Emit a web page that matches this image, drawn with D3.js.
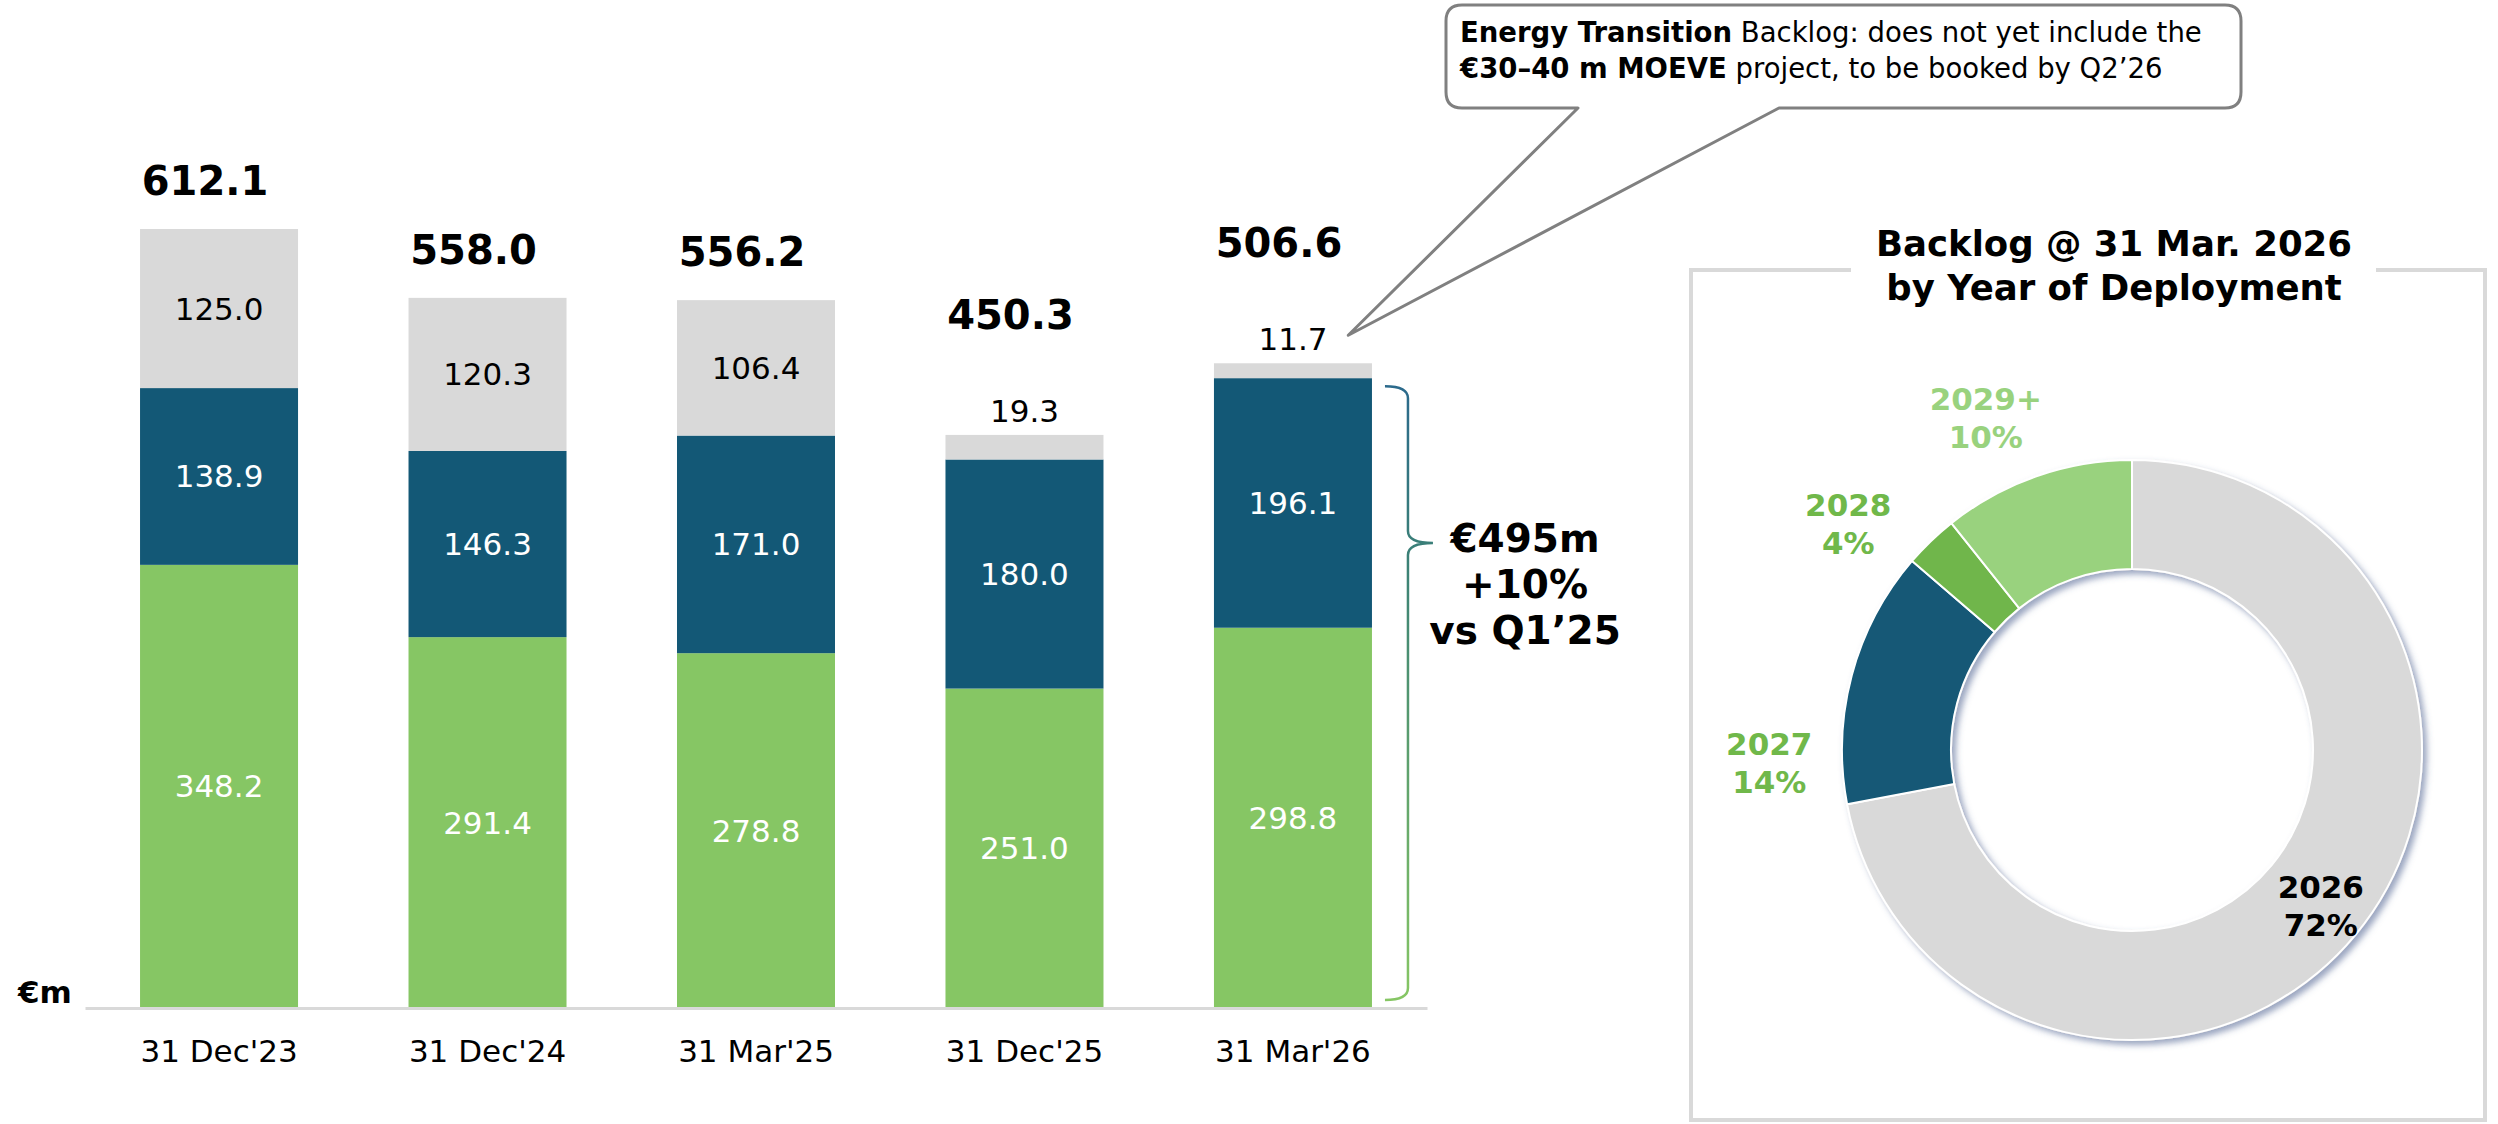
<!DOCTYPE html>
<html>
<head>
<meta charset="utf-8">
<script src="https://cdn.jsdelivr.net/npm/d3@7"></script>
<style>
  html, body { margin: 0; padding: 0; background: #ffffff; }
  svg { display: block; font-family: "DejaVu Sans", Verdana, sans-serif; }
</style>
</head>
<body>
<svg id="chart" width="2498" height="1124"></svg>
<script>
// ---------- data ----------
const categories = ["31 Dec'23", "31 Dec'24", "31 Mar'25", "31 Dec'25", "31 Mar'26"];
const greenValues = [348.2, 291.4, 278.8, 251.0, 298.8];
const blueValues  = [138.9, 146.3, 171.0, 180.0, 196.1];
const greyValues  = [125.0, 120.3, 106.4, 19.3, 11.7];
const totalValues = [612.1, 558.0, 556.2, 450.3, 506.6];
const unitLabel = "€m";
const braceLines = ["€495m", "+10%", "vs Q1’25"];

const donutYears  = ["2026", "2027", "2028", "2029+"];
const donutShares = [72.0, 14.3, 3.0, 10.7];
const donutShareLabels = ["72%", "14%", "4%", "10%"];
const donutTitle = ["Backlog @ 31 Mar. 2026", "by Year of Deployment"];

const calloutLines = [
  [{t: "Energy Transition", b: true}, {t: " Backlog: does not yet include the", b: false}],
  [{t: "€30–40 m MOEVE", b: true}, {t: " project, to be booked by Q2’26", b: false}]
];

// ---------- styles ----------
const C = {
  grey: "#d9d9d9", blue: "#135876", green: "#86c664",
  d2027: "#135876", d2028: "#70b64b", d2029: "#99d27e",
  lblGreen: "#70b84a", lblLight: "#99d27e"
};

const svg = d3.select("#chart");
const defs = svg.append("defs");

// ---------- bar chart ----------
const x = d3.scaleBand().domain(categories).range([85, 1427])
  .paddingInner(0.4115).paddingOuter(0.205);
const y = d3.scaleLinear().domain([0, 612.1]).range([1008, 229]);

const rows = categories.map((c, i) => ({
  cat: c, green: greenValues[i], blue: blueValues[i], grey: greyValues[i], total: totalValues[i]
}));
const keys = ["green", "blue", "grey"];
const colors = {green: C.green, blue: C.blue, grey: C.grey};
const stack = d3.stack().keys(keys)(rows);

const gBars = svg.append("g");
stack.forEach(layer => {
  gBars.selectAll(null).data(layer).enter().append("rect")
    .attr("x", d => x(d.data.cat))
    .attr("width", x.bandwidth())
    .attr("y", d => y(d[1]))
    .attr("height", d => y(d[0]) - y(d[1]))
    .attr("fill", colors[layer.key]);
});

// segment labels
stack.forEach(layer => {
  gBars.selectAll(null).data(layer).enter().append("text")
    .attr("x", d => x(d.data.cat) + x.bandwidth() / 2)
    .attr("y", d => {
      const v = d.data[layer.key];
      if (layer.key === "grey" && v < 40) return y(d[1]) - 24;
      return (y(d[0]) + y(d[1])) / 2;
    })
    .attr("text-anchor", "middle")
    .attr("dominant-baseline", "central")
    .attr("font-size", 31)
    .attr("fill", layer.key === "grey" ? "#000" : "#fff")
    .text(d => d.data[layer.key].toFixed(1));
});

// total labels
gBars.selectAll(null).data(rows).enter().append("text")
  .attr("x", d => x(d.cat) + x.bandwidth() / 2 - 14)
  .attr("y", d => y(d.total) - (d.grey < 40 ? 120 : 48))
  .attr("text-anchor", "middle")
  .attr("dominant-baseline", "central")
  .attr("font-size", 40)
  .attr("font-weight", "bold")
  .attr("fill", "#000")
  .text(d => d.total.toFixed(1));

// x axis
const xAxis = d3.axisBottom(x).tickSize(0).tickPadding(32);
const gx = svg.append("g").attr("transform", `translate(0,${y(0)})`).call(xAxis);
gx.select(".domain").attr("stroke", "#d9d9d9").attr("stroke-width", 3);
gx.selectAll(".tick text").attr("font-size", 31).attr("fill", "#000")
  .attr("font-family", "DejaVu Sans, Verdana, sans-serif");

svg.append("text").attr("x", 18).attr("y", y(0) - 16)
  .attr("dominant-baseline", "central")
  .attr("font-size", 31).attr("font-weight", "bold").text(unitLabel);

// brace over last bar (blue + green)
const last = rows[rows.length - 1];
const bx = x(last.cat) + x.bandwidth();
const bTop = y(last.green + last.blue) + 8;
const bBot = y(0) - 8;
const bTip = 543;
const xL = bx + 13, xV = bx + 36, xT = bx + 61;
const grad = defs.append("linearGradient").attr("id", "braceGrad")
  .attr("gradientUnits", "userSpaceOnUse")
  .attr("x1", 0).attr("y1", bTop).attr("x2", 0).attr("y2", bBot);
grad.append("stop").attr("offset", 0).attr("stop-color", "#2c6a8c");
grad.append("stop").attr("offset", 0.3).attr("stop-color", "#3c8275");
grad.append("stop").attr("offset", 1).attr("stop-color", "#86c664");
svg.append("path")
  .attr("d", `M${xL},${bTop} Q${xV},${bTop} ${xV},${bTop + 12} L${xV},${bTip - 12} Q${xV},${bTip} ${xT},${bTip} Q${xV},${bTip} ${xV},${bTip + 12} L${xV},${bBot - 12} Q${xV},${bBot} ${xL},${bBot}`)
  .attr("fill", "none").attr("stroke", "url(#braceGrad)").attr("stroke-width", 2.5);

svg.selectAll(null).data(braceLines).enter().append("text")
  .attr("x", 1525).attr("y", (d, i) => 538 + i * 46)
  .attr("text-anchor", "middle").attr("dominant-baseline", "central")
  .attr("font-size", 39).attr("font-weight", "bold").attr("fill", "#000")
  .text(d => d);

// ---------- callout ----------
const bL = 1446, bR = 2241, bT = 5, bB = 108, r = 16;
const tipX = x(last.cat) + x.bandwidth() * 0.85;
const tipY = y(last.total) - 28;
const baseL = 1578, baseR = 1779;
svg.append("path")
  .attr("d", `M${bL + r},${bT} H${bR - r} Q${bR},${bT} ${bR},${bT + r} V${bB - r} Q${bR},${bB} ${bR - r},${bB} H${baseR} L${tipX},${tipY} L${baseL},${bB} H${bL + r} Q${bL},${bB} ${bL},${bB - r} V${bT + r} Q${bL},${bT} ${bL + r},${bT} Z`)
  .attr("fill", "#fff").attr("stroke", "#808080").attr("stroke-width", 3)
  .attr("stroke-linejoin", "round");
calloutLines.forEach((line, i) => {
  const t = svg.append("text").attr("x", 1460).attr("y", 42 + i * 36)
    .attr("font-size", 27.5).attr("fill", "#000");
  line.forEach(seg => t.append("tspan").attr("font-weight", seg.b ? "bold" : "normal").text(seg.t));
});

// ---------- donut ----------
const cx = 2132, cy = 750, rOut = 290, rIn = 181;
// frame
svg.append("path")
  .attr("d", `M1851,270 H1691 V1120 H2485 V270 H2376`)
  .attr("fill", "none").attr("stroke", "#d9d9d9").attr("stroke-width", 4);
svg.selectAll(null).data(donutTitle).enter().append("text")
  .attr("x", 2114).attr("y", (d, i) => 243 + i * 44)
  .attr("text-anchor", "middle").attr("dominant-baseline", "central")
  .attr("font-size", 35.5).attr("font-weight", "bold").attr("fill", "#000")
  .text(d => d);

const shadow = defs.append("filter").attr("id", "dsh")
  .attr("x", "-20%").attr("y", "-20%").attr("width", "140%").attr("height", "140%");
shadow.append("feDropShadow").attr("dx", 4).attr("dy", 4).attr("stdDeviation", 3)
  .attr("flood-color", "#4a5b8c").attr("flood-opacity", 0.55);

const donutColors = [C.grey, C.d2027, C.d2028, C.d2029];
const pie = d3.pie().sort(null).value(d => d.v);
const pdata = pie(donutYears.map((yr, i) => ({yr, v: donutShares[i], lbl: donutShareLabels[i], i})));
const arc = d3.arc().innerRadius(rIn).outerRadius(rOut);
const gD = svg.append("g").attr("transform", `translate(${cx},${cy})`);
gD.append("g").attr("filter", "url(#dsh)")
  .selectAll("path").data(pdata).enter().append("path")
  .attr("d", arc).attr("fill", d => donutColors[d.data.i])
  .attr("stroke", "#fff").attr("stroke-width", 2);

// label placement: inside label for the big slice, outside labels for the rest,
// rotated back a little (as in the original layout) so they do not crowd.
const labelColors = ["#000", C.lblGreen, C.lblGreen, C.lblLight];
const deg = Math.PI / 180;
const labelShift = [0, -17 * deg, -7.5 * deg, -4.5 * deg];
pdata.forEach(d => {
  const k = d.data.i;
  const rad = k === 0 ? 245 : 363;
  const a = (d.startAngle + d.endAngle) / 2 + labelShift[k];
  const px = rad * Math.sin(a), py = -rad * Math.cos(a);
  const t = gD.append("text").attr("text-anchor", "middle")
    .attr("font-size", 31).attr("font-weight", "bold").attr("fill", labelColors[k]);
  t.append("tspan").attr("x", px).attr("y", py - 19).attr("dominant-baseline", "central").text(d.data.yr);
  t.append("tspan").attr("x", px).attr("y", py + 19).attr("dominant-baseline", "central").text(d.data.lbl);
});
</script>
</body>
</html>
